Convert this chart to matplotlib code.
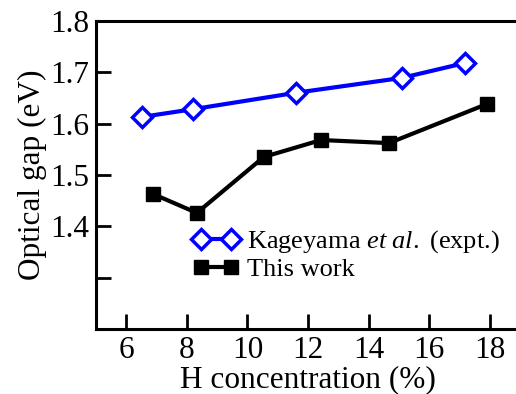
import numpy as np
import matplotlib.pyplot as plt

plt.rcParams['font.family'] = 'Liberation Serif'
plt.rcParams['mathtext.fontset'] = 'custom'
plt.rcParams['mathtext.rm'] = 'Liberation Serif'
plt.rcParams['mathtext.it'] = 'Liberation Serif:italic'

# Kageyama et al. (expt.)
h_kag = [6.52, 8.20, 11.60, 15.10, 17.18]
gap_kag = [1.613, 1.628, 1.660, 1.689, 1.718]

# this work
h_this = [6.88, 8.33, 10.54, 12.43, 14.67, 17.90]
gap_this = [1.463, 1.426, 1.535, 1.568, 1.562, 1.638]

yticks = [1.3, 1.4, 1.5, 1.6, 1.7, 1.8]
ylabels = ['', '1.4', '1.5', '1.6', '1.7', '1.8']
xticks = [6, 8, 10, 12, 14, 16, 18]

fig = plt.figure(figsize=(5.16, 3.94), dpi=100)
ax = fig.add_axes([0.186, 0.165, 0.822, 0.782])

ax.plot(h_kag, gap_kag, color='#0000ff', lw=3, marker='D', ms=10, mfc='white',
        mec='#0000ff', mew=2.5, label=r'Kageyama $\mathit{et\ al.}$ (expt.)')
ax.plot(h_this, gap_this, color='black', lw=3, marker='s', ms=10.5,
        label='This work')

ax.set_xlim(5, 19)
ax.set_ylim(1.2, 1.8)
ax.set_xticks(xticks)
ax.set_yticks(yticks)
ax.set_yticklabels(ylabels)
ax.tick_params(direction='in', length=11, width=2, labelsize=22.5, pad=5)
for s in ax.spines.values():
    s.set_linewidth(2.2)

ax.set_xlabel('H concentration (%)', fontsize=22.5, labelpad=0)
ax.set_ylabel('Optical gap (eV)', fontsize=22.5, labelpad=2)

ax.legend(loc='upper left', bbox_to_anchor=(0.203, 0.36), frameon=False,
          fontsize=19, numpoints=2, handlelength=1.75, handletextpad=0.3,
          labelspacing=0.08, borderaxespad=0)

fig.savefig('out.png')
